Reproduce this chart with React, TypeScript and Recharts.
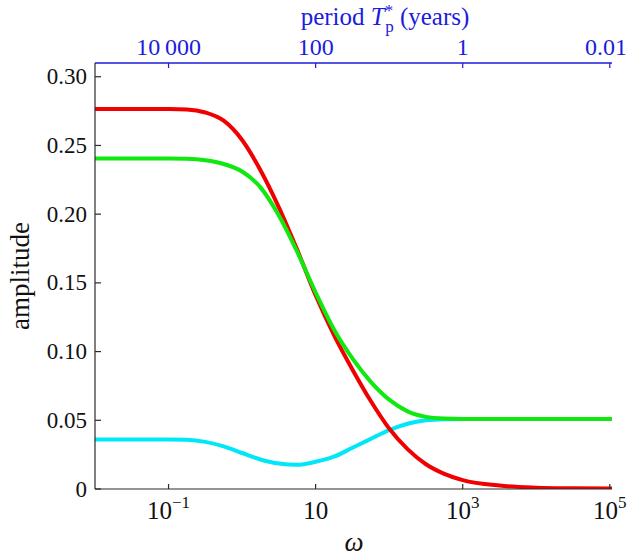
import React from 'react'
import { LineChart, Line, XAxis, YAxis } from 'recharts'

// log10(omega) sample positions
const logOmega = [-2, -1.5, -1, -0.75, -0.5, -0.25, 0, 0.25, 0.5, 0.75, 1, 1.25, 1.5, 1.75, 2, 2.25, 2.5, 2.75, 3, 3.5, 4, 4.5, 5.03]
const redAmp = [0.2766, 0.2766, 0.2765, 0.2762, 0.274, 0.268, 0.254, 0.232, 0.205, 0.174, 0.141, 0.112, 0.087, 0.064, 0.044, 0.029, 0.018, 0.011, 0.0065, 0.0025, 0.001, 0.0005, 0.0003]
const greenAmp = [0.2405, 0.2405, 0.2405, 0.2403, 0.2392, 0.2365, 0.231, 0.2195, 0.199, 0.1725, 0.143, 0.116, 0.095, 0.078, 0.065, 0.0565, 0.0525, 0.0513, 0.051, 0.051, 0.051, 0.051, 0.051]
const cyanAmp = [0.036, 0.036, 0.036, 0.0358, 0.0343, 0.031, 0.0262, 0.0215, 0.0185, 0.0176, 0.0198, 0.0235, 0.03, 0.0365, 0.0428, 0.0475, 0.05, 0.0508, 0.051, 0.051, 0.051, 0.051, 0.051]

const omegaTicks = [-1, 1, 3, 5]
const omegaExp = ['\u22121', '', '3', '5']
const periodLabels = ['10\u2009000', '100', '1', '0.01']
const ampTicks = [0, 0.05, 0.1, 0.15, 0.2, 0.25, 0.3]

const rows = logOmega.map((lw, i) => ({ lw, red: redAmp[i], green: greenAmp[i], cyan: cyanAmp[i] }))

const FONT = '"Liberation Serif", "DejaVu Serif", serif'
const AXIS = '#2a2a2a'
const BLUE = '#1c1cdc'

const LeftTick = ({ x, y, payload }: any) => (
  <g>
    <line x1={x} x2={x + 6} y1={y} y2={y} stroke={AXIS} strokeWidth={1.2} />
    <text x={x - 8} y={y} textAnchor="end" dominantBaseline="central" fontSize={23} fontFamily={FONT} fill="#111">
      {payload.value === 0 ? '0' : payload.value.toFixed(2)}
    </text>
  </g>
)

const RightTick = ({ x, y }: any) => (
  <line x1={x} x2={x - 6} y1={y} y2={y} stroke={AXIS} strokeWidth={1.2} />
)

const BottomTick = ({ x, y, payload }: any) => {
  const exp = omegaExp[omegaTicks.indexOf(payload.value)]
  return (
    <g>
      <line x1={x} x2={x} y1={y} y2={y - 5} stroke={AXIS} strokeWidth={1.2} />
      <text x={x} y={y + 30} textAnchor="middle" fontSize={25} fontFamily={FONT} fill="#111">
        10
        {exp && <tspan dy={-11} fontSize={17}>{exp}</tspan>}
      </text>
    </g>
  )
}

const TopTick = ({ x, y, payload }: any) => {
  const i = omegaTicks.indexOf(payload.value)
  const last = i === omegaTicks.length - 1
  return (
    <g>
      <line x1={x} x2={x} y1={y} y2={y + 5} stroke={BLUE} strokeWidth={1.2} />
      <text x={last ? 627 : x} y={y - 8} textAnchor={last ? 'end' : 'middle'} fontSize={24} fontFamily={FONT} fill={BLUE}>
        {periodLabels[i]}
      </text>
    </g>
  )
}

const TopTitle = () => (
  <text x={385} y={25} textAnchor="middle" fontSize={25} fontFamily={FONT} fill={BLUE}>
    period <tspan fontStyle="italic">T</tspan>
    <tspan dy={-9} fontSize={17}>*</tspan>
    <tspan dx={-8} dy={16} fontSize={17}>p</tspan>
    <tspan dy={-7}> (years)</tspan>
  </text>
)

const OmegaTitle = () => (
  <text x={354} y={551} textAnchor="middle" fontSize={27} fontStyle="italic" fontFamily={FONT} fill="#111">
    ω
  </text>
)

const AmpTitle = () => (
  <text x={20} y={276} transform="rotate(-90 20 276)" textAnchor="middle" dominantBaseline="central" fontSize={27} fontFamily={FONT} fill="#111">
    amplitude
  </text>
)

export default function App() {
  return (
    <div style={{ position: 'absolute', left: 0, top: 0, background: '#fff' }}>
      <LineChart width={630} height={556} data={rows} margin={{ top: 0, right: 18, bottom: 0, left: 0 }}>
        <XAxis
          xAxisId="bottom"
          dataKey="lw"
          type="number"
          domain={[-2, 5.03]}
          allowDataOverflow
          ticks={omegaTicks}
          height={67}
          tickSize={0}
          tickMargin={0}
          tick={(p: any) => <BottomTick {...p} />}
          axisLine={{ stroke: AXIS, strokeWidth: 1.2 }}
          tickLine={false}
          label={<OmegaTitle />}
        />
        <XAxis
          xAxisId="top"
          orientation="top"
          dataKey="lw"
          type="number"
          domain={[-2, 5.03]}
          allowDataOverflow
          ticks={omegaTicks}
          height={63}
          tickSize={0}
          tickMargin={0}
          tick={(p: any) => <TopTick {...p} />}
          axisLine={{ stroke: BLUE, strokeWidth: 1.4 }}
          tickLine={false}
          label={<TopTitle />}
        />
        <YAxis
          yAxisId="left"
          type="number"
          domain={[0, 0.31]}
          allowDataOverflow
          ticks={ampTicks}
          width={95}
          tickSize={0}
          tickMargin={0}
          tick={(p: any) => <LeftTick {...p} />}
          axisLine={{ stroke: AXIS, strokeWidth: 1.2 }}
          tickLine={false}
          label={<AmpTitle />}
        />
        <YAxis
          yAxisId="right"
          orientation="right"
          type="number"
          domain={[0, 0.31]}
          allowDataOverflow
          ticks={ampTicks}
          width={0}
          tickSize={0}
          tickMargin={0}
          tick={(p: any) => <RightTick {...p} />}
          axisLine={{ stroke: AXIS, strokeWidth: 1.2 }}
          tickLine={false}
        />
        <Line xAxisId="bottom" yAxisId="left" type="monotone" dataKey="cyan" stroke="#00e8f8" strokeWidth={4} dot={false} isAnimationActive={false} />
        <Line xAxisId="bottom" yAxisId="left" type="monotone" dataKey="red" stroke="#f00000" strokeWidth={4} dot={false} isAnimationActive={false} />
        <Line xAxisId="bottom" yAxisId="left" type="monotone" dataKey="green" stroke="#10e810" strokeWidth={4} dot={false} isAnimationActive={false} />
        <Line xAxisId="top" yAxisId="right" type="monotone" dataKey="green" stroke="none" dot={false} activeDot={false} legendType="none" isAnimationActive={false} />
      </LineChart>
    </div>
  )
}
